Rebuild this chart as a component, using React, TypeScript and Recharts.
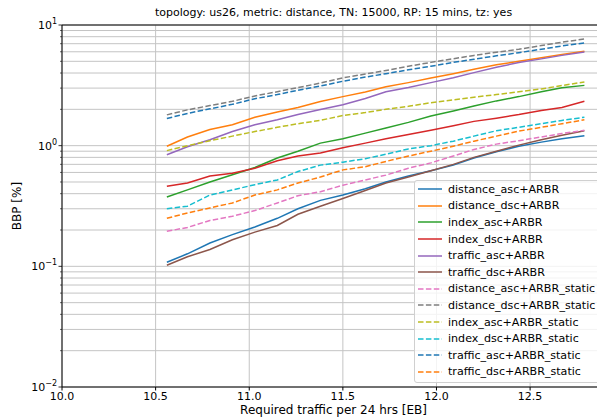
import { LineChart, Line, XAxis, YAxis, CartesianGrid, ReferenceLine } from "recharts";

const traffic = [10.56, 10.67, 10.79, 10.91, 11.03, 11.15, 11.26, 11.38, 11.5, 11.62, 11.73, 11.85, 11.97, 12.09, 12.2, 12.32, 12.44, 12.56, 12.67, 12.79];

const distanceAsc = [0.108, 0.127, 0.156, 0.183, 0.212, 0.25, 0.3, 0.352, 0.39, 0.44, 0.5, 0.56, 0.62, 0.69, 0.79, 0.89, 0.99, 1.07, 1.14, 1.21];
const distanceDsc = [0.99, 1.18, 1.36, 1.49, 1.72, 1.9, 2.07, 2.32, 2.55, 2.78, 3.08, 3.33, 3.63, 3.95, 4.3, 4.68, 5.0, 5.35, 5.7, 6.05];
const indexAsc = [0.375, 0.43, 0.5, 0.575, 0.66, 0.79, 0.9, 1.05, 1.14, 1.27, 1.4, 1.56, 1.76, 1.94, 2.13, 2.35, 2.55, 2.8, 3.02, 3.16];
const indexDsc = [0.46, 0.49, 0.56, 0.59, 0.65, 0.75, 0.82, 0.87, 0.96, 1.05, 1.14, 1.24, 1.34, 1.46, 1.59, 1.69, 1.81, 1.96, 2.07, 2.33];
const trafficAsc = [0.84, 0.98, 1.12, 1.31, 1.49, 1.64, 1.81, 1.99, 2.18, 2.46, 2.8, 3.03, 3.33, 3.66, 4.03, 4.47, 4.88, 5.24, 5.6, 5.97];
const trafficDsc = [0.102, 0.12, 0.138, 0.166, 0.192, 0.218, 0.27, 0.315, 0.365, 0.425, 0.49, 0.55, 0.62, 0.7, 0.8, 0.9, 1.01, 1.12, 1.22, 1.33];
const distanceAscStatic = [0.195, 0.21, 0.24, 0.26, 0.29, 0.335, 0.385, 0.415, 0.47, 0.52, 0.57, 0.65, 0.72, 0.82, 0.93, 1.03, 1.1, 1.18, 1.26, 1.34];
const distanceDscStatic = [1.8, 1.98, 2.15, 2.33, 2.58, 2.8, 3.03, 3.3, 3.65, 3.92, 4.2, 4.55, 4.9, 5.25, 5.6, 5.95, 6.3, 6.75, 7.2, 7.65];
const indexAscStatic = [0.91, 1.0, 1.1, 1.2, 1.31, 1.42, 1.52, 1.62, 1.78, 1.88, 2.0, 2.12, 2.27, 2.4, 2.52, 2.65, 2.8, 2.95, 3.15, 3.37];
const indexDscStatic = [0.3, 0.315, 0.39, 0.43, 0.475, 0.52, 0.61, 0.69, 0.73, 0.78, 0.85, 0.94, 1.0, 1.09, 1.2, 1.33, 1.42, 1.52, 1.62, 1.72];
const trafficAscStatic = [1.68, 1.85, 2.02, 2.2, 2.45, 2.65, 2.88, 3.12, 3.42, 3.7, 3.95, 4.25, 4.55, 4.9, 5.2, 5.55, 5.9, 6.3, 6.7, 7.1];
const trafficDscStatic = [0.25, 0.277, 0.305, 0.335, 0.39, 0.43, 0.49, 0.55, 0.63, 0.67, 0.74, 0.82, 0.9, 0.99, 1.09, 1.2, 1.32, 1.42, 1.52, 1.64];

const xTicks = [10, 10.5, 11, 11.5, 12, 12.5];
const yTicks = [
  0.01, 0.02, 0.03, 0.04, 0.05, 0.06, 0.07, 0.08, 0.09,
  0.1, 0.2, 0.3, 0.4, 0.5, 0.6, 0.7, 0.8, 0.9,
  1, 2, 3, 4, 5, 6, 7, 8, 9, 10,
];
const majorExp: Record<string, string> = { "0.01": "\u22122", "0.1": "\u22121", "1": "0", "10": "1" };

const series = [
  { key: "distance_asc+ARBR", values: distanceAsc, color: "#1f77b4", dashed: false },
  { key: "distance_dsc+ARBR", values: distanceDsc, color: "#ff7f0e", dashed: false },
  { key: "index_asc+ARBR", values: indexAsc, color: "#2ca02c", dashed: false },
  { key: "index_dsc+ARBR", values: indexDsc, color: "#d62728", dashed: false },
  { key: "traffic_asc+ARBR", values: trafficAsc, color: "#9467bd", dashed: false },
  { key: "traffic_dsc+ARBR", values: trafficDsc, color: "#8c564b", dashed: false },
  { key: "distance_asc+ARBR_static", values: distanceAscStatic, color: "#e377c2", dashed: true },
  { key: "distance_dsc+ARBR_static", values: distanceDscStatic, color: "#7f7f7f", dashed: true },
  { key: "index_asc+ARBR_static", values: indexAscStatic, color: "#bcbd22", dashed: true },
  { key: "index_dsc+ARBR_static", values: indexDscStatic, color: "#17becf", dashed: true },
  { key: "traffic_asc+ARBR_static", values: trafficAscStatic, color: "#1f77b4", dashed: true },
  { key: "traffic_dsc+ARBR_static", values: trafficDscStatic, color: "#ff7f0e", dashed: true },
];

const data = traffic.map((x, i) => {
  const row: Record<string, number> = { x };
  series.forEach((s) => (row[s.key] = s.values[i]));
  return row;
});

const font = "'DejaVu Sans', sans-serif";

function YTick(props: any) {
  const { x, y, payload } = props;
  const exp = majorExp[String(payload.value)];
  if (exp === undefined) {
    return <line x1={x - 2} x2={x} y1={y} y2={y} stroke="#000" strokeWidth={0.6} />;
  }
  return (
    <g>
      <line x1={x - 3.5} x2={x} y1={y} y2={y} stroke="#000" strokeWidth={0.8} />
      <text x={x - 5} y={y + 4} textAnchor="end" fontSize={11} fill="#000" fontFamily={font}>
        <tspan>10</tspan>
        <tspan dy={-5} fontSize={8}>{exp}</tspan>
      </text>
    </g>
  );
}

function LegendBox() {
  return (
    <div
      style={{
        position: "absolute",
        left: 414,
        top: 180,
        background: "rgba(255,255,255,0.8)",
        border: "1px solid #d0d0d0",
        borderRadius: 3,
        padding: "0 0 2px 2px",
        width: 200,
        fontSize: 11.1,
      }}
    >
      {series.map((s) => (
        <div key={s.key} style={{ display: "flex", alignItems: "center", height: 16.6 }}>
          <svg width={31} height={10} style={{ flexShrink: 0 }}>
            <line
              x1={1}
              x2={25}
              y1={5}
              y2={5}
              stroke={s.color}
              strokeWidth={1.5}
              strokeDasharray={s.dashed ? "5.5 2.4" : undefined}
            />
          </svg>
          <span style={{ whiteSpace: "nowrap" }}>{s.key}</span>
        </div>
      ))}
    </div>
  );
}

export default function App() {
  return (
    <div style={{ position: "absolute", left: 0, top: 0, width: 597, height: 419, overflow: "hidden", background: "#fff", fontFamily: font }}>
      <div style={{ position: "absolute", left: 0, width: 667, top: 6, textAlign: "center", fontSize: 11 }}>
        topology: us26, metric: distance, TN: 15000, RP: 15 mins, tz: yes
      </div>
      <div
        style={{
          position: "absolute",
          left: 17,
          top: 206,
          transform: "translate(-50%, -50%) rotate(-90deg)",
          fontSize: 12,
          whiteSpace: "nowrap",
        }}
      >
        BBP [%]
      </div>
      <div style={{ position: "absolute", left: 0, width: 667, top: 403, textAlign: "center", fontSize: 12 }}>
        Required traffic per 24 hrs [EB]
      </div>
      <LineChart width={605} height={419} data={data} margin={{ top: 25, right: 0, bottom: 0, left: 0 }}>
        <CartesianGrid stroke="#c4c4c4" strokeWidth={1} />
        <XAxis
          dataKey="x"
          type="number"
          domain={[10, 12.9]}
          ticks={xTicks}
          allowDataOverflow
          height={32}
          tickSize={3.5}
          tickMargin={2}
          stroke="#000"
          tickFormatter={(v: number) => v.toFixed(1)}
          tick={{ fontSize: 11, fill: "#000", fontFamily: font }}
        />
        <YAxis
          type="number"
          scale="log"
          domain={[0.01, 10]}
          ticks={yTicks}
          allowDataOverflow
          width={62}
          tickSize={0}
          tickMargin={0}
          tickLine={false}
          stroke="#000"
          interval={0}
          tick={<YTick />}
        />
        <ReferenceLine y={10} stroke="#000" strokeWidth={1} />
        {series.map((s) => (
          <Line
            key={s.key}
            dataKey={s.key}
            stroke={s.color}
            strokeWidth={1.5}
            strokeDasharray={s.dashed ? "5.5 2.4" : undefined}
            dot={false}
            type="linear"
            isAnimationActive={false}
          />
        ))}
      </LineChart>
      <LegendBox />
    </div>
  );
}
